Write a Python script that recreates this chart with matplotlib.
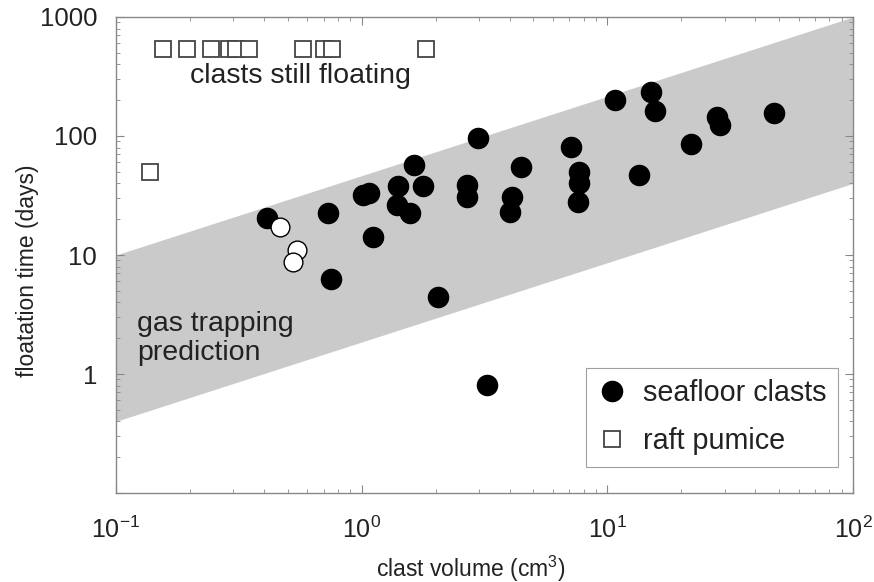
import numpy as np
import matplotlib.pyplot as plt
from matplotlib.ticker import FixedLocator, LogLocator, NullFormatter

plt.rcParams['font.family'] = ['Liberation Sans', 'DejaVu Sans']
plt.rcParams['mathtext.fontset'] = 'custom'
plt.rcParams['mathtext.rm'] = 'Liberation Sans'

# seafloor clasts (filled circles)
seafloor_vol = [0.41, 0.73, 0.75, 1.01, 1.07, 1.11, 1.40, 1.39, 1.57, 1.64,
                1.77, 2.04, 2.68, 2.68, 2.97, 3.23, 4.08, 4.0, 4.44, 7.1,
                7.64, 7.64, 7.57, 10.7, 13.4, 15.1, 15.7, 22.0, 27.9, 28.7, 47.5]
seafloor_days = [20.5, 22.5, 6.3, 31.9, 33.2, 14.2, 38, 26.3, 22.5, 57,
                 38, 4.4, 38.7, 30.7, 96, 0.81, 30.7, 23, 55, 81,
                 49.8, 40.3, 27.9, 201, 47, 234, 162, 86, 144, 124, 156]

# open circles
open_vol = [0.464, 0.544, 0.524]
open_days = [17.2, 11.0, 8.7]

# raft pumice (open squares)
raft_vol = [0.156, 0.194, 0.243, 0.288, 0.307, 0.347, 0.575, 0.70, 0.755, 1.82, 0.138]
raft_days = [540, 540, 540, 540, 540, 540, 540, 540, 540, 540, 50]

# gas trapping prediction band (end points)
band_vol = [0.1, 100]
band_lo = [0.4, 40]
band_hi = [10, 1000]

fig = plt.figure(figsize=(8.74, 5.82), dpi=100)
ax = fig.add_axes([0.1327, 0.1529, 0.8433, 0.8179])

ax.fill_between(band_vol, band_lo, band_hi, color='#cacaca', lw=0, zorder=1)

ax.plot(seafloor_vol, seafloor_days, 'o', ms=14.5, mfc='black', mec='black',
        ls='none', zorder=3, label='seafloor clasts')
ax.plot(open_vol, open_days, 'o', ms=13.5, mfc='white', mec='black', mew=1.0,
        ls='none', zorder=4)
ax.plot(raft_vol, raft_days, 's', ms=11.5, mfc='white', mec='#444444', mew=1.3,
        ls='none', zorder=3, label='raft pumice')

ax.set_xscale('log')
ax.set_yscale('log')
ax.set_xlim(0.1, 100)
ax.set_ylim(0.1, 1000)

ax.yaxis.set_major_locator(FixedLocator([0.1, 1, 10, 100, 1000]))
ax.set_yticklabels(['', '1', '10', '100', '1000'])
ax.yaxis.set_minor_locator(LogLocator(base=10, subs=np.arange(2, 10)))
ax.yaxis.set_minor_formatter(NullFormatter())
ax.xaxis.set_minor_locator(LogLocator(base=10, subs=np.arange(2, 10)))
ax.xaxis.set_minor_formatter(NullFormatter())

ax.tick_params(which='both', direction='in', top=True, right=True, colors='#888888',
               labelcolor='#222222')
ax.tick_params(which='major', length=6, width=0.8)
ax.tick_params(which='minor', length=3, width=0.6)
ax.tick_params(axis='x', which='major', labelsize=18, pad=17)
ax.tick_params(axis='y', which='major', labelsize=18.5, pad=13.5)
for sp in ax.spines.values():
    sp.set_color('#888888')
    sp.set_linewidth(1.0)

ax.set_xlabel('clast volume (cm$^3$)', fontsize=16.5, color='#222222')
ax.set_ylabel('floatation time (days)', fontsize=16.5, color='#222222')
ax.xaxis.set_label_coords(0.482, -0.127)
ax.yaxis.set_label_coords(-0.105, 0.466)

ax.text(0.565, 319, 'clasts still floating', fontsize=20.5, color='#222222',
        ha='center', va='center')
ax.text(0.122, 2.0, 'gas trapping\nprediction', fontsize=20.5, color='#222222',
        ha='left', va='center', linespacing=1.15)

leg = ax.legend(loc='lower right', bbox_to_anchor=(0.98, 0.055), borderaxespad=0,
                fontsize=20.7, frameon=True, fancybox=False, edgecolor='#888888',
                handletextpad=0.6, labelspacing=0.7, borderpad=0.4, handlelength=1.0)
leg.get_frame().set_linewidth(0.8)
for t in leg.get_texts():
    t.set_color('#222222')

fig.savefig('out.png', dpi=100)
